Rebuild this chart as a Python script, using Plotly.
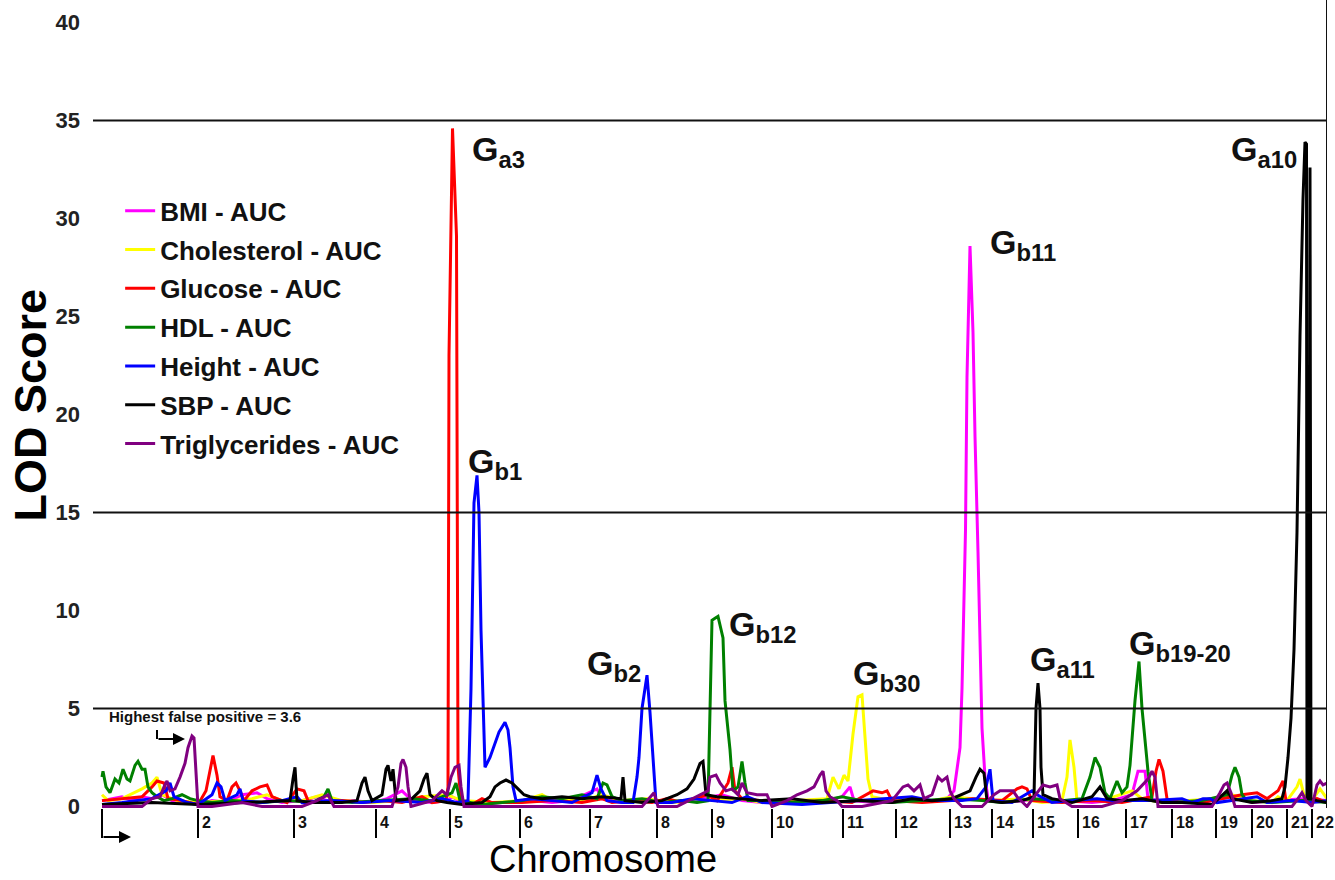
import plotly.graph_objects as go

# ---------------- data ----------------
chrom_labels = [str(i) for i in range(1, 23)]
chrom_starts = [0, 96, 192, 274, 348, 418, 488, 555, 610, 670, 741, 794, 848, 890,
                931, 976, 1024, 1070, 1114, 1150, 1185, 1210]
genome_end = 1225

trait_names = ["BMI - AUC", "Cholesterol - AUC", "Glucose - AUC", "HDL - AUC",
               "Height - AUC", "SBP - AUC", "Triglycerides - AUC"]
trait_colors = ["#FF00FF", "#FFFF00", "#FF0000", "#008000", "#0000FF", "#000000", "#800080"]

bmi_x = [0, 10, 20, 30, 40, 50, 60, 70, 85, 96, 110, 125, 140, 155, 165, 180, 200, 215, 230, 250,
         270, 285, 300, 310, 330, 345, 350, 360, 380, 400, 430, 450, 470, 495, 500, 520, 540, 560,
         580, 600, 620, 640, 660, 690, 720, 740, 748, 752, 770, 790, 810, 830, 845, 852, 858, 860,
         862, 863.5, 865, 868, 871, 873, 876, 878, 880, 883, 886, 900, 920, 940, 960, 990, 1010,
         1030, 1036, 1043, 1046, 1070, 1100, 1130, 1150, 1180, 1200, 1225]
bmi_y = [0.3, 0.4, 0.5, 0.3, 0.5, 0.4, 0.6, 0.3, 0.2, 0.1, 0.3, 0.2, 0.6, 0.7, 0.4, 0.2, 0.3, 0.5, 0.2, 0.3,
         0.2, 0.4, 0.8, 0.3, 0.2, 0.3, 0.5, 0.2, 0.1, 0.2, 0.3, 0.2, 0.3, 0.9, 0.4, 0.2, 0.3, 0.2,
         0.3, 0.4, 0.6, 0.3, 0.2, 0.3, 0.2, 0.5, 1.0, 0.3, 0.2, 0.3, 0.4, 0.3, 0.4, 0.8, 3.0, 6.0,
         10.0, 14.1, 21.9, 28.6, 24.2, 18.9, 13.0, 8.0, 4.0, 1.5, 0.4, 0.2, 0.3, 0.4, 0.3, 0.2, 0.3,
         0.6, 1.8, 1.8, 0.4, 0.2, 0.2, 0.5, 0.2, 0.3, 0.4, 0.3]

chol_x = [0, 6, 20, 40, 50, 55, 60, 75, 96, 130, 150, 165, 180, 200, 220, 240, 270, 300, 320, 345,
          360, 390, 420, 440, 450, 480, 500, 520, 545, 570, 600, 640, 660, 700, 725, 731, 737, 742,
          746, 751, 756, 760, 763, 766, 770, 790, 810, 830, 850, 870, 890, 920, 940, 960, 965, 968,
          972, 975, 1000, 1030, 1040, 1060, 1090, 1110, 1130, 1150, 1170, 1176, 1185, 1195, 1198,
          1202, 1210, 1218, 1225]
chol_y = [0.6, 0.3, 0.4, 0.9, 1.2, 1.5, 0.6, 0.3, 0.2, 0.3, 0.4, 0.6, 0.3, 0.3, 0.6, 0.3, 0.2, 0.3, 0.5, 0.6,
          0.3, 0.2, 0.3, 0.6, 0.3, 0.3, 0.6, 0.3, 0.4, 0.2, 0.3, 0.4, 0.2, 0.3, 0.4, 1.5, 0.9, 1.6,
          1.3, 3.7, 5.6, 5.7, 3.7, 1.4, 0.5, 0.3, 0.4, 0.3, 0.5, 0.4, 0.3, 0.4, 0.2, 0.3, 1.5, 3.4,
          2.0, 0.3, 0.3, 0.8, 0.4, 0.2, 0.3, 0.4, 0.6, 0.3, 0.2, 0.5, 0.3, 1.0, 1.4,
          0.6, 0.3, 0.9, 0.4]

gluc_x = [0, 20, 40, 50, 55, 62, 66, 80, 96, 104, 108, 111, 115, 118, 125, 130, 134, 138, 142, 150,
          158, 165, 170, 185, 195, 202, 206, 220, 240, 260, 280, 300, 320, 330, 344, 346, 347, 350.5,
          354.5, 356, 359, 370, 380, 390, 420, 450, 480, 500, 510, 530, 550, 565, 580, 605, 615, 626,
          630, 633, 640, 660, 690, 720, 750, 771, 780, 785, 790, 820, 850, 870, 900, 915, 920, 925,
          930, 960, 990, 1020, 1050, 1054, 1057, 1061, 1065, 1080, 1100, 1120, 1140, 1155, 1165,
          1176, 1181, 1184, 1200, 1215, 1225]
gluc_y = [0.3, 0.4, 0.5, 1.0, 1.3, 1.2, 0.4, 0.3, 0.1, 0.8, 1.8, 2.6, 1.6, 0.5, 0.3, 1.0, 1.2, 0.8, 0.3, 0.8,
          1.0, 1.1, 0.5, 0.2, 0.9, 0.8, 0.3, 0.2, 0.3, 0.2, 0.3, 0.2, 0.5, 0.2, 0.3, 1.0, 23.0, 34.6,
          29.1, 2.0, 0.3, 0.1, 0.4, 0.2, 0.2, 0.3, 0.2, 0.4, 0.2, 0.3, 0.2, 0.4, 0.2, 0.6, 0.3, 1.2,
          2.0, 0.8, 0.4, 0.3, 0.2, 0.3, 0.2, 0.8, 0.7, 0.8, 0.3, 0.2, 0.3, 0.4, 0.3, 0.9, 1.0, 0.9,
          0.3, 0.2, 0.3, 0.2, 0.5, 1.8, 2.4, 1.8, 0.4, 0.2, 0.2, 0.4, 0.6, 0.7, 0.4,
          0.8, 1.3, 0.3, 0.3, 0.4, 0.2]

hdl_x = [0, 1, 4, 8, 13, 17, 21, 25, 28, 33, 36, 40, 43, 46, 50, 55, 62, 70, 80, 88, 96, 110, 130, 160,
         185, 210, 222, 226, 230, 250, 280, 310, 330, 350, 354, 358, 380, 420, 440, 460, 480, 495,
         501, 505, 510, 520, 540, 560, 580, 595, 606, 608, 610, 613, 616, 621, 623, 628, 631, 636,
         640, 643, 646, 660, 690, 720, 740, 760, 790, 820, 850, 880, 900, 930, 960, 980, 988, 993,
         998, 1003, 1008, 1015, 1020, 1025, 1028, 1033, 1037, 1040, 1043, 1046, 1050, 1070, 1100,
         1125, 1130, 1133, 1137, 1140, 1145, 1170, 1200, 1225]
hdl_y = [1.5, 1.8, 1.0, 0.7, 1.4, 1.2, 1.9, 1.4, 1.3, 2.1, 2.3, 1.9, 1.9, 1.0, 0.7, 0.5, 0.3, 0.4, 0.6, 0.4,
         0.3, 0.2, 0.3, 0.2, 0.3, 0.2, 0.5, 0.9, 0.3, 0.2, 0.3, 0.4, 0.3, 0.7, 1.2, 0.3, 0.1, 0.3,
         0.5, 0.4, 0.6, 0.4, 1.2, 1.1, 0.5, 0.3, 0.4, 0.2, 0.3, 0.2, 0.3, 5.0, 9.5, 9.6, 9.7, 8.6,
         5.4, 2.9, 0.8, 1.0, 2.3, 1.2, 0.3, 0.3, 0.2, 0.3, 0.5, 0.3, 0.2, 0.3, 0.4, 0.3, 0.2, 0.4,
         0.3, 0.4, 1.5, 2.5, 2.0, 0.7, 0.4, 1.3, 0.7, 1.0, 2.1, 5.4, 7.4, 5.0, 3.2, 1.8, 0.3, 0.2,
         0.3, 0.6, 1.6, 2.0, 1.5, 0.6, 0.3, 0.2, 0.3, 0.2]

height_x = [0, 20, 50, 64, 68, 72, 85, 96, 110, 115, 119, 123, 135, 138, 141, 160, 180, 195, 200, 230,
            260, 290, 320, 340, 355, 366, 369, 372, 375, 377, 379, 381, 383, 388, 393, 397, 403, 406,
            408, 411, 414, 430, 450, 470, 490, 495, 499, 505, 520, 531, 535, 537, 540, 545, 548, 551,
            554, 570, 590, 610, 630, 645, 660, 700, 730, 760, 790, 810, 830, 860, 875, 884, 888, 891,
            910, 930, 935, 950, 970, 995, 1010, 1030, 1050, 1080, 1090, 1101, 1108, 1115, 1130, 1155,
            1165, 1190, 1210, 1225]
height_y = [0.1, 0.2, 0.4, 0.8, 1.2, 0.5, 0.2, 0.1, 0.6, 1.2, 1.0, 0.3, 0.6, 0.9, 0.3, 0.2, 0.3, 0.5, 0.2,
            0.3, 0.2, 0.3, 0.2, 0.4, 0.2, 0.3, 6.0, 15.5, 16.9, 15.0, 9.0, 5.0, 2.0, 2.5, 3.2, 3.8,
            4.3, 3.9, 3.0, 1.0, 0.3, 0.4, 0.3, 0.2, 0.7, 1.6, 0.9, 0.3, 0.2, 0.2, 1.5, 2.5, 5.0, 6.7,
            4.8, 2.5, 0.2, 0.2, 0.4, 0.3, 0.2, 0.5, 0.2, 0.1, 0.2, 0.3, 0.4, 0.5, 0.3, 0.3, 0.4, 1.0,
            1.9, 0.3, 0.2, 0.8, 0.6, 0.2, 0.3, 0.4, 0.3, 0.3, 0.3, 0.4, 0.2, 0.4, 0.4, 0.2, 0.3,
            0.5, 0.2, 0.3, 0.2, 0.3]

sbp_x = [0, 50, 96, 150, 188, 191, 193, 195, 210, 240, 255, 260, 263, 266, 270, 280, 284, 286, 289,
         291, 294, 310, 318, 322, 325, 328, 335, 345, 360, 380, 388, 393, 398, 404, 410, 416, 422, 428,
         440, 460, 480, 500, 519, 521, 523, 540, 560, 575, 585, 592, 598, 601, 604, 615, 640, 660, 690,
         720, 760, 790, 810, 830, 850, 868, 874, 878, 882, 885, 900, 920, 932, 934, 936, 938, 939,
         941, 950, 970, 990, 998, 1005, 1020, 1040, 1060, 1080, 1110, 1125, 1130, 1150, 1170, 1180,
         1183, 1186, 1189, 1192, 1195, 1198, 1201, 1203, 1204.5, 1205, 1207, 1208, 1209, 1215, 1225]
sbp_y = [0.1, 0.2, 0.1, 0.2, 0.3, 1.4, 2.0, 0.3, 0.2, 0.2, 0.3, 1.2, 1.5, 0.8, 0.3, 0.6, 1.9, 2.1, 1.3,
         1.9, 0.3, 0.4, 0.8, 1.4, 1.7, 0.6, 0.3, 0.2, 0.1, 0.2, 0.5, 1.0, 1.2, 1.35, 1.2, 0.9, 0.6, 0.5,
         0.4, 0.5, 0.4, 0.5, 0.4, 1.5, 0.3, 0.2, 0.3, 0.6, 0.9, 1.4, 2.2, 2.3, 0.6, 0.5, 0.4, 0.3, 0.4,
         0.2, 0.3, 0.2, 0.4, 0.3, 0.4, 0.8, 1.5, 1.9, 1.7, 0.3, 0.2, 0.3, 0.5, 5.0, 6.3, 5.0, 2.0,
         0.6, 0.4, 0.2, 0.5, 1.0, 0.4, 0.3, 0.4, 0.2, 0.2, 0.1, 0.8, 0.4, 0.2, 0.3, 0.4,
         1.0, 2.5, 4.5, 8.0, 14.0, 24.0, 31.0, 33.9, 33.8, 0.4, 0.4, 32.6, 0.4, 0.3, 0.2]

trig_x = [0, 40, 50, 58, 62, 65, 68, 73, 78, 83, 86, 90, 92, 94, 96, 110, 140, 160, 200, 215, 226, 232,
          260, 290, 296, 299, 301, 304, 306, 309, 330, 340, 345, 349, 353, 357, 359, 362, 380, 420, 460,
          480, 520, 540, 552, 556, 575, 606, 608, 614, 618, 624, 630, 636, 640, 645, 655, 665, 670, 685,
          695, 705, 712, 718, 721, 724, 728, 735, 740, 760, 790, 801, 806, 812, 818, 822, 830, 836, 840,
          845, 848, 852, 860, 880, 892, 898, 911, 915, 925, 941, 948, 955, 958, 970, 1000, 1020, 1035,
          1046, 1050, 1053, 1056, 1080, 1110, 1118, 1122, 1125, 1129, 1133, 1160, 1190, 1196, 1200,
          1204, 1210, 1215, 1218, 1221, 1225]
trig_y = [0.0, 0.0, 0.4, 0.5, 1.0, 1.3, 0.8, 0.9, 1.5, 2.2, 3.0, 3.6, 3.5, 2.0, 0.0, 0.0, 0.2, 0.0, 0.0,
          0.3, 0.6, 0.0, 0.0, 0.0, 1.0, 2.2, 2.4, 2.0, 1.0, 0.0, 0.3, 0.8, 0.6, 1.5, 2.0, 2.1, 1.0, 0.0,
          0.0, 0.0, 0.0, 0.0, 0.0, 0.0, 0.7, 0.0, 0.0, 0.8, 1.5, 1.6, 1.2, 0.8, 0.9, 0.6, 1.2, 0.7, 0.6,
          0.6, 0.0, 0.3, 0.6, 0.8, 1.0, 1.6, 1.8, 0.8, 0.5, 0.3, 0.0, 0.0, 0.3, 1.0, 1.1, 0.8, 1.1, 0.4,
          0.6, 1.5, 1.3, 1.5, 0.8, 0.4, 0.0, 0.0, 0.6, 0.8, 0.8, 0.5, 0.0, 1.1, 1.0, 1.1, 0.4, 0.0, 0.0,
          0.3, 0.8, 1.4, 1.8, 1.5, 0.0, 0.0, 0.0, 0.7, 1.1, 1.2, 0.7, 0.0, 0.0, 0.0, 0.4, 0.7, 0.3, 0.0,
          1.1, 1.3, 1.1, 1.2]

series_x = [bmi_x, chol_x, gluc_x, hdl_x, height_x, sbp_x, trig_x]
series_y = [bmi_y, chol_y, gluc_y, hdl_y, height_y, sbp_y, trig_y]

threshold_lines = [5, 15, 35]
y_ticks = [0, 5, 10, 15, 20, 25, 30, 35, 40]

peak_labels = ["a3", "b1", "b2", "b12", "b30", "b11", "a11", "b19-20", "a10"]
peak_label_x = [368, 364, 483, 625, 749, 886, 926, 1025, 1127]
peak_label_y = [33.4, 17.5, 7.2, 9.2, 6.7, 28.7, 7.4, 8.2, 33.4]

false_pos_text = "Highest false positive = 3.6"

# ---------------- figure ----------------
FONT = "Liberation Sans, Arial, sans-serif"
fig = go.Figure()
for i, (nm, col) in enumerate(zip(trait_names, trait_colors)):
    fig.add_trace(go.Scatter(
        x=series_x[i], y=series_y[i], mode="lines", name="<b>" + nm + "</b>",
        legendgroup="g%d" % i,
        line=dict(color=col, width=3)))

shapes = []
for v in threshold_lines:
    shapes.append(dict(type="line", xref="x", yref="y", x0=-9, x1=genome_end, y0=v, y1=v,
                       line=dict(color="#111111", width=2), layer="above"))
# right border
shapes.append(dict(type="line", xref="x", yref="paper", x0=genome_end, x1=genome_end, y0=0, y1=1.005,
                   line=dict(color="#111111", width=2), layer="above"))
# small vertical stem of the false-positive arrow
shapes.append(dict(type="line", xref="x", yref="y", x0=55, x1=55, y0=3.9, y1=3.45,
                   line=dict(color="#000000", width=2)))

annotations = []
for lab, xx, yy in zip(peak_labels, peak_label_x, peak_label_y):
    annotations.append(dict(x=xx, y=yy, xref="x", yref="y", text="<b>G<sub>" + lab + "</sub></b>",
                            showarrow=False, xanchor="left", yanchor="middle",
                            font=dict(family=FONT, size=34, color="#111111")))
# chromosome labels
for lab, s in zip(chrom_labels[1:], chrom_starts[1:]):
    annotations.append(dict(x=s + 2, y=-0.0186, xref="x", yref="paper", text="<b>" + lab + "</b>",
                            showarrow=False, xanchor="left", yanchor="middle",
                            font=dict(family=FONT, size=16, color="#111111")))
annotations.append(dict(x=5, y=4.57, xref="x", yref="y", text="<b>" + false_pos_text + "</b>",
                        showarrow=False, xanchor="left", yanchor="middle",
                        font=dict(family=FONT, size=15, color="#111111")))
# false-positive arrow
annotations.append(dict(x=83, y=3.45, xref="x", yref="y", ax=-28, ay=0, axref="pixel", ayref="pixel",
                        text="", showarrow=True, arrowhead=2, arrowsize=1.2, arrowwidth=2,
                        arrowcolor="#000000"))
# bottom-left arrow
annotations.append(dict(x=29, y=-0.036, xref="x", yref="paper", ax=-29, ay=0, axref="pixel", ayref="pixel",
                        text="", showarrow=True, arrowhead=2, arrowsize=1.2, arrowwidth=2,
                        arrowcolor="#000000"))
# axis titles
annotations.append(dict(x=-0.051, y=0.5, xref="paper", yref="paper", text="<b>LOD Score</b>",
                        textangle=-90, showarrow=False, xanchor="center", yanchor="middle",
                        font=dict(family=FONT, size=45, color="#000000")))
annotations.append(dict(x=501, y=-0.063, xref="x", yref="paper", text="Chromosome",
                        showarrow=False, xanchor="center", yanchor="middle",
                        font=dict(family=FONT, size=38, color="#000000")))

fig.update_layout(
    width=1335, height=880,
    margin=dict(l=93, r=8, t=3, b=72, autoexpand=False),
    paper_bgcolor="white", plot_bgcolor="white",
    showlegend=True,
    legend=dict(x=0.022, y=0.771, xanchor="left", yanchor="top",
                font=dict(family=FONT, size=26, color="#111111"),
                bgcolor="rgba(0,0,0,0)", tracegroupgap=2, itemwidth=30),
    xaxis=dict(range=[-9, genome_end], showgrid=False, zeroline=False, showline=False,
               tickvals=chrom_starts, ticks="outside", ticklen=29, tickwidth=2,
               tickcolor="#000000", showticklabels=False, automargin=False),
    yaxis=dict(range=[-0.0766, 41], showgrid=False, zeroline=False, showline=False,
               tickvals=y_ticks, ticktext=["<b>%d</b>" % v for v in y_ticks],
               ticks="", ticklabelstandoff=12, automargin=False,
               tickfont=dict(family=FONT, size=22, color="#222222")),
    shapes=shapes, annotations=annotations,
)

fig.write_html("out.html", config={"displayModeBar": False},
               post_script="document.body.style.margin='0';document.body.style.padding='0';")
